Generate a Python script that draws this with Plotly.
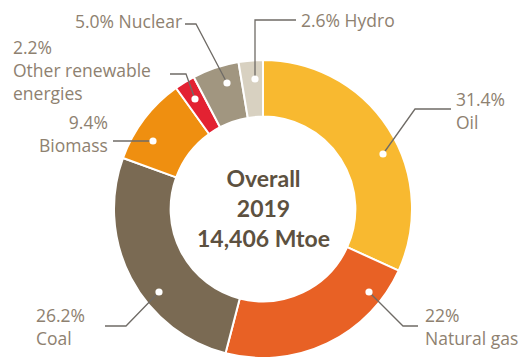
import plotly.graph_objects as go

# Energy mix shares, 2019 (%)
sources = ["Oil", "Natural gas", "Coal", "Biomass", "Other renewable energies", "Nuclear", "Hydro"]
shares = [31.4, 22, 26.2, 9.4, 2.2, 5.0, 2.6]
share_labels = ["31.4%", "22%", "26.2%", "9.4%", "2.2%", "5.0%", "2.6%"]
colors = ["#F8B930", "#E86125", "#7A6A53", "#EF8F10", "#E32232", "#A19680", "#D8D1C1"]

center_lines = ["Overall", "2019", "14,406 Mtoe"]

W, H = 526, 361
M_L, M_R, M_T, M_B = 0, 0, 60, 3
PW, PH = W - M_L - M_R, H - M_T - M_B

TEXT = "#8E8170"
LINE = "#6F6B66"
FONT = "Open Sans"
FS = 17.5


def px(x):
    return (x - M_L) / PW


def py(y):
    return (H - M_B - y) / PH


fig = go.Figure(go.Pie(
    labels=sources,
    values=shares,
    hole=0.62,
    sort=False,
    direction="clockwise",
    rotation=0,
    marker=dict(colors=colors, line=dict(color="white", width=2)),
    textinfo="none",
    hoverinfo="label+value",
    showlegend=False,
))

# leader layout per slice: dot, elbow, end of horizontal run; label block anchor
leaders = {
    "Oil": dict(pts=[(383, 154), (415, 109), (451, 109)],
                text=(455, 110, "left", share_labels[0] + "<br>Oil")),
    "Natural gas": dict(pts=[(369, 292), (403, 326), (418, 326)],
                        text=(424, 326, "left", share_labels[1] + "<br>Natural gas")),
    "Coal": dict(pts=[(159, 292), (126, 326), (105, 326)],
                 text=(35, 326, "left", share_labels[2] + "<br>Coal")),
    "Biomass": dict(pts=[(153, 141), (113, 141)],
                    text=(109, 133, "right", share_labels[3] + "<br>Biomass")),
    "Other": dict(pts=[(195, 99), (186, 74), (170, 74)],
                  text=(12, 70, "left", share_labels[4] + "<br>Other renewable<br>energies")),
    "Nuclear": dict(pts=[(227, 83), (196, 24), (185, 24)],
                    text=(183, 21, "right", share_labels[5] + " Nuclear")),
    "Hydro": dict(pts=[(255, 79), (255, 20), (296, 20)],
                  text=(300, 20, "left", share_labels[6] + " Hydro")),
}

shapes = []
annotations = []
for key, d in leaders.items():
    pts = d["pts"]
    path = "M " + " L ".join(f"{px(x):.5f},{py(y):.5f}" for x, y in pts)
    shapes.append(dict(type="path", path=path, xref="paper", yref="paper",
                       line=dict(color=LINE, width=1.3), layer="above"))
    cx, cy = pts[0]
    r = 3.6
    shapes.append(dict(type="circle", xref="paper", yref="paper",
                       x0=px(cx - r), x1=px(cx + r), y0=py(cy + r), y1=py(cy - r),
                       fillcolor="white", line=dict(width=0), layer="above"))
    tx, ty, anchor, t = d["text"]
    annotations.append(dict(x=px(tx), y=py(ty), xref="paper", yref="paper",
                            text=t, showarrow=False, xanchor=anchor, yanchor="middle",
                            align=anchor, borderpad=0,
                            font=dict(family=FONT, size=FS, color=TEXT)))

annotations.append(dict(x=px(263), y=py(208), xref="paper", yref="paper",
                        text="<b>" + "<br>".join(center_lines) + "</b>",
                        showarrow=False, xanchor="center", yanchor="middle", align="center",
                        font=dict(family="Lato", size=23, color="#5D5140")))

fig.update_layout(
    width=W, height=H,
    margin=dict(l=M_L, r=M_R, t=M_T, b=M_B),
    paper_bgcolor="white",
    plot_bgcolor="white",
    shapes=shapes,
    annotations=annotations,
)

fig.write_html("out.html")
